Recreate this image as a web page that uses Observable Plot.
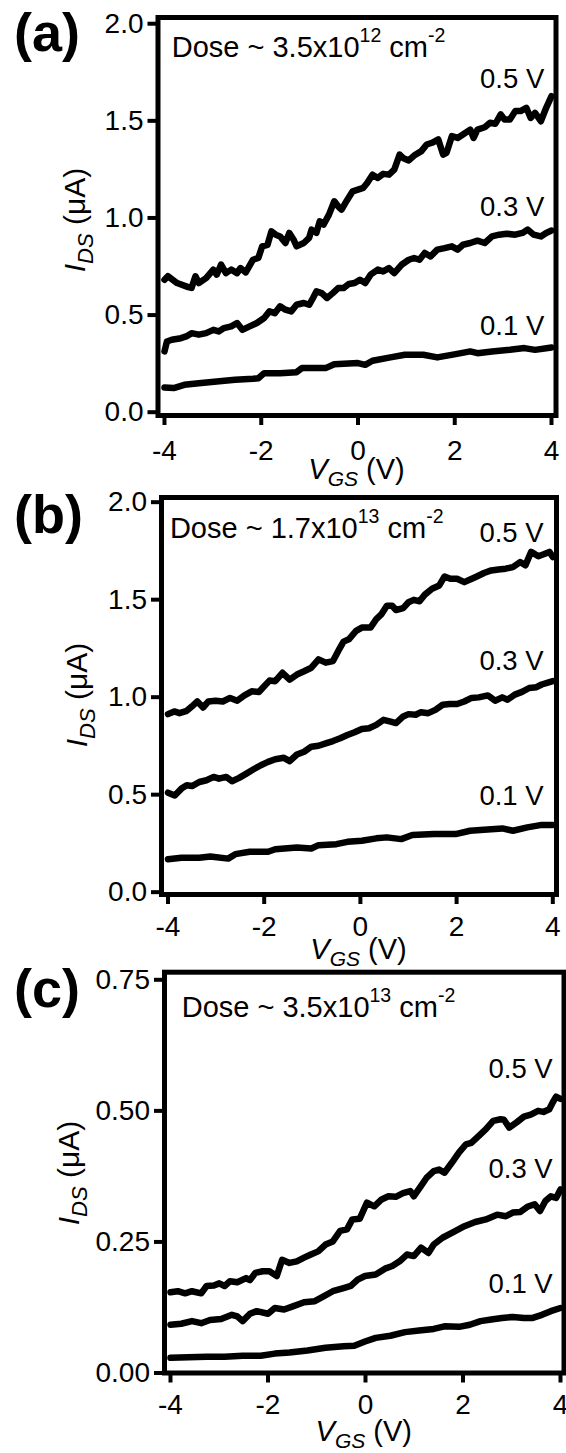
<!DOCTYPE html>
<html><head><meta charset="utf-8">
<script src="https://cdn.jsdelivr.net/npm/d3@7"></script>
<script src="https://cdn.jsdelivr.net/npm/@observablehq/plot@0.6"></script>
<style>
body{margin:0;background:#fff;}
#wrap{position:relative;width:566px;height:1453px;overflow:hidden;background:#fff;}
#wrap svg{position:absolute;left:0;overflow:visible;}
</style></head><body><div id="wrap"></div>
<script>
// ---- tick values & labels ----
const xTicks = [-4, -2, 0, 2, 4];
const yTicksAB = [0, 0.5, 1, 1.5, 2];
const yTicksC = [0, 0.25, 0.5, 0.75];
const panelLetters = ["(a)", "(b)", "(c)"];
const doseMantissa = ["3.5", "1.7", "3.5"];
const doseExponent = ["12", "13", "13"];
const biasLabels = ["0.5 V", "0.3 V", "0.1 V"];

// ---- series: [V_GS (V), I_DS (µA)] ----
const a05 = [[-4,0.682],[-3.93,0.70],[-3.74,0.665],[-3.51,0.644],[-3.44,0.64],[-3.36,0.70],[-3.29,0.665],[-3.14,0.69],[-2.99,0.734],[-2.92,0.708],[-2.83,0.76],[-2.73,0.716],[-2.62,0.734],[-2.50,0.716],[-2.43,0.742],[-2.32,0.72],[-2.17,0.785],[-2.06,0.794],[-1.98,0.854],[-1.87,0.862],[-1.79,0.931],[-1.70,0.914],[-1.61,0.905],[-1.50,0.871],[-1.42,0.923],[-1.33,0.888],[-1.27,0.854],[-1.12,0.871],[-1.01,0.897],[-0.96,0.94],[-0.86,0.923],[-0.79,0.983],[-0.71,0.966],[-0.60,1.017],[-0.49,1.086],[-0.41,1.06],[-0.34,1.043],[-0.22,1.094],[-0.11,1.137],[0,1.146],[0.11,1.155],[0.19,1.18],[0.30,1.223],[0.41,1.206],[0.52,1.227],[0.64,1.223],[0.75,1.249],[0.86,1.326],[0.93,1.309],[1.05,1.296],[1.16,1.321],[1.31,1.344],[1.42,1.378],[1.53,1.387],[1.66,1.404],[1.76,1.326],[1.83,1.335],[1.94,1.421],[2.06,1.412],[2.17,1.43],[2.32,1.455],[2.39,1.412],[2.47,1.455],[2.62,1.467],[2.73,1.49],[2.84,1.485],[2.95,1.533],[3.03,1.507],[3.14,1.507],[3.25,1.55],[3.36,1.55],[3.48,1.567],[3.57,1.515],[3.66,1.541],[3.78,1.498],[3.89,1.567],[4.0,1.627]];
const a03 = [[-4,0.313],[-3.95,0.364],[-3.85,0.373],[-3.66,0.381],[-3.55,0.39],[-3.44,0.407],[-3.29,0.399],[-3.14,0.407],[-2.99,0.424],[-2.88,0.416],[-2.77,0.433],[-2.62,0.442],[-2.50,0.459],[-2.39,0.424],[-2.24,0.442],[-2.09,0.459],[-1.94,0.485],[-1.83,0.519],[-1.72,0.510],[-1.61,0.545],[-1.50,0.528],[-1.38,0.519],[-1.27,0.553],[-1.12,0.562],[-1.01,0.553],[-0.93,0.588],[-0.86,0.622],[-0.75,0.613],[-0.64,0.588],[-0.52,0.613],[-0.41,0.639],[-0.30,0.639],[-0.19,0.66],[-0.07,0.665],[0.04,0.682],[0.15,0.665],[0.26,0.708],[0.41,0.734],[0.52,0.725],[0.64,0.742],[0.75,0.716],[0.90,0.759],[1.05,0.785],[1.16,0.794],[1.27,0.785],[1.38,0.820],[1.50,0.802],[1.64,0.837],[1.79,0.845],[1.94,0.854],[2.06,0.837],[2.17,0.862],[2.32,0.871],[2.47,0.883],[2.62,0.871],[2.77,0.905],[2.92,0.914],[3.07,0.919],[3.25,0.914],[3.40,0.923],[3.51,0.94],[3.63,0.914],[3.78,0.905],[3.89,0.923],[4.0,0.935]];
const a01 = [[-4,0.127],[-3.81,0.124],[-3.59,0.141],[-3.29,0.149],[-2.92,0.158],[-2.54,0.167],[-2.17,0.172],[-2.06,0.175],[-1.94,0.201],[-1.61,0.201],[-1.27,0.206],[-1.16,0.227],[-0.67,0.227],[-0.49,0.247],[0,0.253],[0.15,0.244],[0.30,0.265],[0.67,0.282],[0.97,0.296],[1.35,0.296],[1.64,0.282],[2.02,0.299],[2.32,0.313],[2.47,0.304],[2.77,0.313],[3.14,0.321],[3.44,0.330],[3.66,0.321],[4.0,0.333]];

const b05 = [[-4,0.913],[-3.87,0.927],[-3.76,0.918],[-3.61,0.93],[-3.50,0.953],[-3.39,0.978],[-3.27,0.947],[-3.16,0.978],[-3.01,0.982],[-2.86,0.978],[-2.71,0.996],[-2.56,0.982],[-2.41,1.009],[-2.26,1.03],[-2.11,1.027],[-2.0,1.056],[-1.89,1.085],[-1.77,1.082],[-1.62,1.125],[-1.47,1.09],[-1.32,1.116],[-1.17,1.133],[-1.02,1.151],[-0.87,1.194],[-0.72,1.177],[-0.57,1.185],[-0.46,1.237],[-0.35,1.285],[-0.24,1.297],[-0.09,1.34],[0.03,1.357],[0.21,1.357],[0.33,1.40],[0.44,1.426],[0.55,1.469],[0.66,1.469],[0.74,1.447],[0.89,1.457],[1.0,1.487],[1.11,1.499],[1.23,1.492],[1.34,1.526],[1.49,1.556],[1.64,1.573],[1.75,1.619],[1.87,1.607],[2.01,1.607],[2.16,1.59],[2.27,1.602],[2.42,1.619],[2.57,1.637],[2.72,1.65],[2.87,1.655],[3.02,1.659],[3.17,1.667],[3.32,1.693],[3.43,1.676],[3.55,1.745],[3.70,1.723],[3.81,1.733],[3.93,1.745],[4.0,1.719]];
const b03 = [[-4,0.51],[-3.86,0.496],[-3.72,0.531],[-3.61,0.548],[-3.50,0.544],[-3.35,0.565],[-3.20,0.574],[-3.05,0.591],[-2.94,0.582],[-2.79,0.591],[-2.67,0.569],[-2.52,0.586],[-2.37,0.608],[-2.22,0.630],[-2.07,0.651],[-1.92,0.668],[-1.77,0.682],[-1.59,0.689],[-1.47,0.672],[-1.32,0.706],[-1.17,0.72],[-1.02,0.746],[-0.87,0.751],[-0.72,0.763],[-0.57,0.775],[-0.42,0.789],[-0.27,0.806],[-0.12,0.82],[0.03,0.837],[0.18,0.841],[0.33,0.858],[0.48,0.884],[0.63,0.875],[0.74,0.867],[0.89,0.901],[1.0,0.913],[1.15,0.91],[1.26,0.923],[1.41,0.918],[1.56,0.935],[1.71,0.961],[1.86,0.965],[2.01,0.965],[2.16,0.978],[2.31,0.996],[2.46,0.999],[2.65,1.009],[2.80,0.982],[2.95,0.999],[3.06,0.987],[3.21,1.013],[3.36,1.027],[3.51,1.047],[3.66,1.051],[3.77,1.065],[3.88,1.073],[4.0,1.082]];
const b01 = [[-4,0.169],[-3.72,0.177],[-3.35,0.177],[-3.12,0.183],[-2.75,0.172],[-2.60,0.195],[-2.30,0.207],[-1.92,0.207],[-1.77,0.22],[-1.32,0.229],[-1.02,0.224],[-0.87,0.241],[-0.50,0.246],[-0.27,0.258],[0.03,0.264],[0.33,0.276],[0.55,0.281],[0.85,0.272],[1.08,0.293],[1.53,0.298],[1.98,0.298],[2.28,0.315],[2.57,0.320],[2.95,0.327],[3.17,0.315],[3.47,0.332],[3.77,0.345],[4.0,0.345]];

const c05 = [[-4,0.154],[-3.85,0.156],[-3.70,0.152],[-3.56,0.156],[-3.37,0.152],[-3.26,0.166],[-3.11,0.167],[-3.0,0.171],[-2.89,0.166],[-2.78,0.175],[-2.63,0.173],[-2.45,0.181],[-2.37,0.177],[-2.26,0.191],[-2.11,0.194],[-1.97,0.194],[-1.82,0.185],[-1.71,0.216],[-1.56,0.21],[-1.41,0.213],[-1.26,0.22],[-1.12,0.226],[-0.97,0.232],[-0.82,0.245],[-0.67,0.251],[-0.52,0.271],[-0.38,0.274],[-0.27,0.293],[-0.12,0.294],[0.03,0.325],[0.18,0.318],[0.33,0.331],[0.47,0.337],[0.62,0.336],[0.77,0.343],[0.92,0.347],[0.99,0.337],[1.14,0.357],[1.25,0.372],[1.40,0.385],[1.51,0.388],[1.62,0.382],[1.77,0.401],[1.92,0.421],[2.06,0.436],[2.17,0.439],[2.32,0.452],[2.47,0.465],[2.62,0.481],[2.77,0.484],[2.84,0.483],[2.95,0.468],[3.10,0.478],[3.25,0.489],[3.39,0.493],[3.54,0.50],[3.65,0.498],[3.77,0.503],[3.84,0.516],[3.91,0.527],[4.0,0.523]];
const c03 = [[-4,0.092],[-3.78,0.094],[-3.56,0.099],[-3.37,0.095],[-3.19,0.101],[-2.96,0.103],[-2.74,0.111],[-2.63,0.108],[-2.52,0.099],[-2.37,0.113],[-2.23,0.118],[-2.0,0.113],[-1.86,0.124],[-1.67,0.121],[-1.49,0.127],[-1.26,0.135],[-1.04,0.137],[-0.86,0.146],[-0.67,0.156],[-0.45,0.162],[-0.30,0.166],[-0.16,0.178],[-0.01,0.185],[0.21,0.188],[0.40,0.199],[0.55,0.204],[0.70,0.213],[0.85,0.226],[0.99,0.223],[1.14,0.239],[1.29,0.229],[1.40,0.245],[1.58,0.258],[1.81,0.269],[2.03,0.28],[2.25,0.288],[2.47,0.293],[2.70,0.302],[2.88,0.299],[3.02,0.306],[3.17,0.307],[3.32,0.317],[3.47,0.322],[3.58,0.309],[3.69,0.328],[3.80,0.337],[3.91,0.334],[4.0,0.35]];
const c01 = [[-4,0.029],[-3.63,0.030],[-3.26,0.031],[-2.89,0.031],[-2.52,0.033],[-2.15,0.033],[-1.86,0.037],[-1.56,0.039],[-1.19,0.043],[-0.82,0.048],[-0.45,0.051],[-0.23,0.052],[-0.01,0.060],[0.21,0.067],[0.51,0.071],[0.81,0.078],[1.10,0.081],[1.40,0.084],[1.62,0.089],[1.92,0.088],[2.14,0.092],[2.36,0.099],[2.58,0.102],[2.80,0.105],[3.02,0.107],[3.25,0.105],[3.43,0.105],[3.62,0.111],[3.80,0.118],[4.0,0.124]];

// ---- layout ----
const FONT = '"Liberation Sans", Arial, Helvetica, sans-serif';
const panels = [
  {top:0, height:500, mt:17, mb:85, ml:157.5, mr:10.5, xDomain:[-4.134,4.093], yDomain:[-0.017,2.032],
   yTicks:yTicksAB, yFmt:d=>d.toFixed(1), series:[a05,a03,a01], labelX:3.85, labelY:[1.667,1.009,0.399],
   dose:[-3.84,1.825], xPad:15, yTitleX:85, yTitleY:220, xTitleY:479, letterY:51},
  {top:470, height:490, mt:27, mb:66, ml:161, mr:10, xDomain:[-4.135,4.077], yDomain:[-0.012,2.024],
   yTicks:yTicksAB, yFmt:d=>d.toFixed(1), series:[b05,b03,b01], labelX:3.81, labelY:[1.797,1.137,0.448],
   dose:[-3.95,1.812], xPad:12, yTitleX:87, yTitleY:225, xTitleY:489, letterY:63},
  {top:950, height:503, mt:21.7, mb:80.5, ml:164, mr:2.5, xDomain:[-4.123,4.072], yDomain:[0,0.7645],
   yTicks:yTicksC, yFmt:d=>d.toFixed(2), series:[c05,c03,c01], labelX:3.84, labelY:[0.563,0.372,0.152],
   dose:[-3.76,0.679], xPad:11, yTitleX:79, yTitleY:223, xTitleY:491, letterY:57}
];

const wrap = document.getElementById("wrap");
panels.forEach((cfg, p) => {
  const svg = Plot.plot({
    width: 566, height: cfg.height,
    marginTop: cfg.mt, marginBottom: cfg.mb, marginLeft: cfg.ml, marginRight: cfg.mr,
    style: {background: "transparent", fontFamily: FONT, fontSize: "28px", color: "black", overflow: "visible"},
    x: {domain: cfg.xDomain},
    y: {domain: cfg.yDomain},
    marks: [
      ...cfg.series.map(s => Plot.line(s, {x: d => d[0], y: d => d[1], stroke: "black", strokeWidth: 6.5,
        strokeLinejoin: "round", strokeLinecap: "round"})),
      Plot.frame({stroke: "black", strokeWidth: 5}),
      Plot.axisX(xTicks, {tickSize: 10, strokeWidth: 4, tickPadding: cfg.xPad, tickFormat: d => String(d),
        fontSize: 28, label: null}),
      Plot.axisY(cfg.yTicks, {tickSize: 10, strokeWidth: 4, tickPadding: 4.5, tickFormat: cfg.yFmt,
        fontSize: 28, label: null}),
      Plot.text(biasLabels, {x: biasLabels.map(() => cfg.labelX), y: cfg.labelY, text: d => d,
        textAnchor: "end", lineAnchor: "bottom", fontSize: 27.5, fill: "black"})
    ]
  });
  svg.style.top = cfg.top + "px";
  wrap.appendChild(svg);
  const sx = svg.scale("x"), sy = svg.scale("y");
  const g = d3.select(svg).append("g").attr("font-family", FONT).attr("fill", "black")
    .attr("text-anchor", "start").style("white-space", "pre");

  // panel letter
  g.append("text").attr("x", 14).attr("y", cfg.letterY).attr("font-size", 54).attr("font-weight", "bold")
    .attr("text-anchor", "start").text(panelLetters[p]);

  // dose annotation
  const t = g.append("text").attr("text-anchor", "start")
    .attr("x", sx.apply(cfg.dose[0])).attr("y", sy.apply(cfg.dose[1])).attr("font-size", 29);
  t.append("tspan").text(`Dose ~ ${doseMantissa[p]}x10`);
  t.append("tspan").attr("font-size", 19.5).attr("dy", -15).text(doseExponent[p]);
  t.append("tspan").attr("dy", 15).text(" cm");
  t.append("tspan").attr("font-size", 19.5).attr("dy", -15).text("-2");

  // y title
  const yt = g.append("text").attr("text-anchor", "middle").attr("font-size", 30)
    .attr("transform", `translate(${cfg.yTitleX},${cfg.yTitleY}) rotate(-90)`);
  yt.append("tspan").attr("font-style", "italic").text("I");
  yt.append("tspan").attr("font-style", "italic").attr("font-size", 22).attr("dy", 8).text("DS");
  yt.append("tspan").attr("dy", -8).text(" (\u03bcA)");

  // x title
  const cx = (cfg.ml + 566 - cfg.mr) / 2;
  const xt = g.append("text").attr("text-anchor", "middle").attr("font-size", 29)
    .attr("x", cx).attr("y", cfg.xTitleY);
  xt.append("tspan").attr("font-style", "italic").text("V");
  xt.append("tspan").attr("font-style", "italic").attr("font-size", 21).attr("dy", 7).text("GS");
  xt.append("tspan").attr("dy", -7).text(" (V)");
});
</script></body></html>
